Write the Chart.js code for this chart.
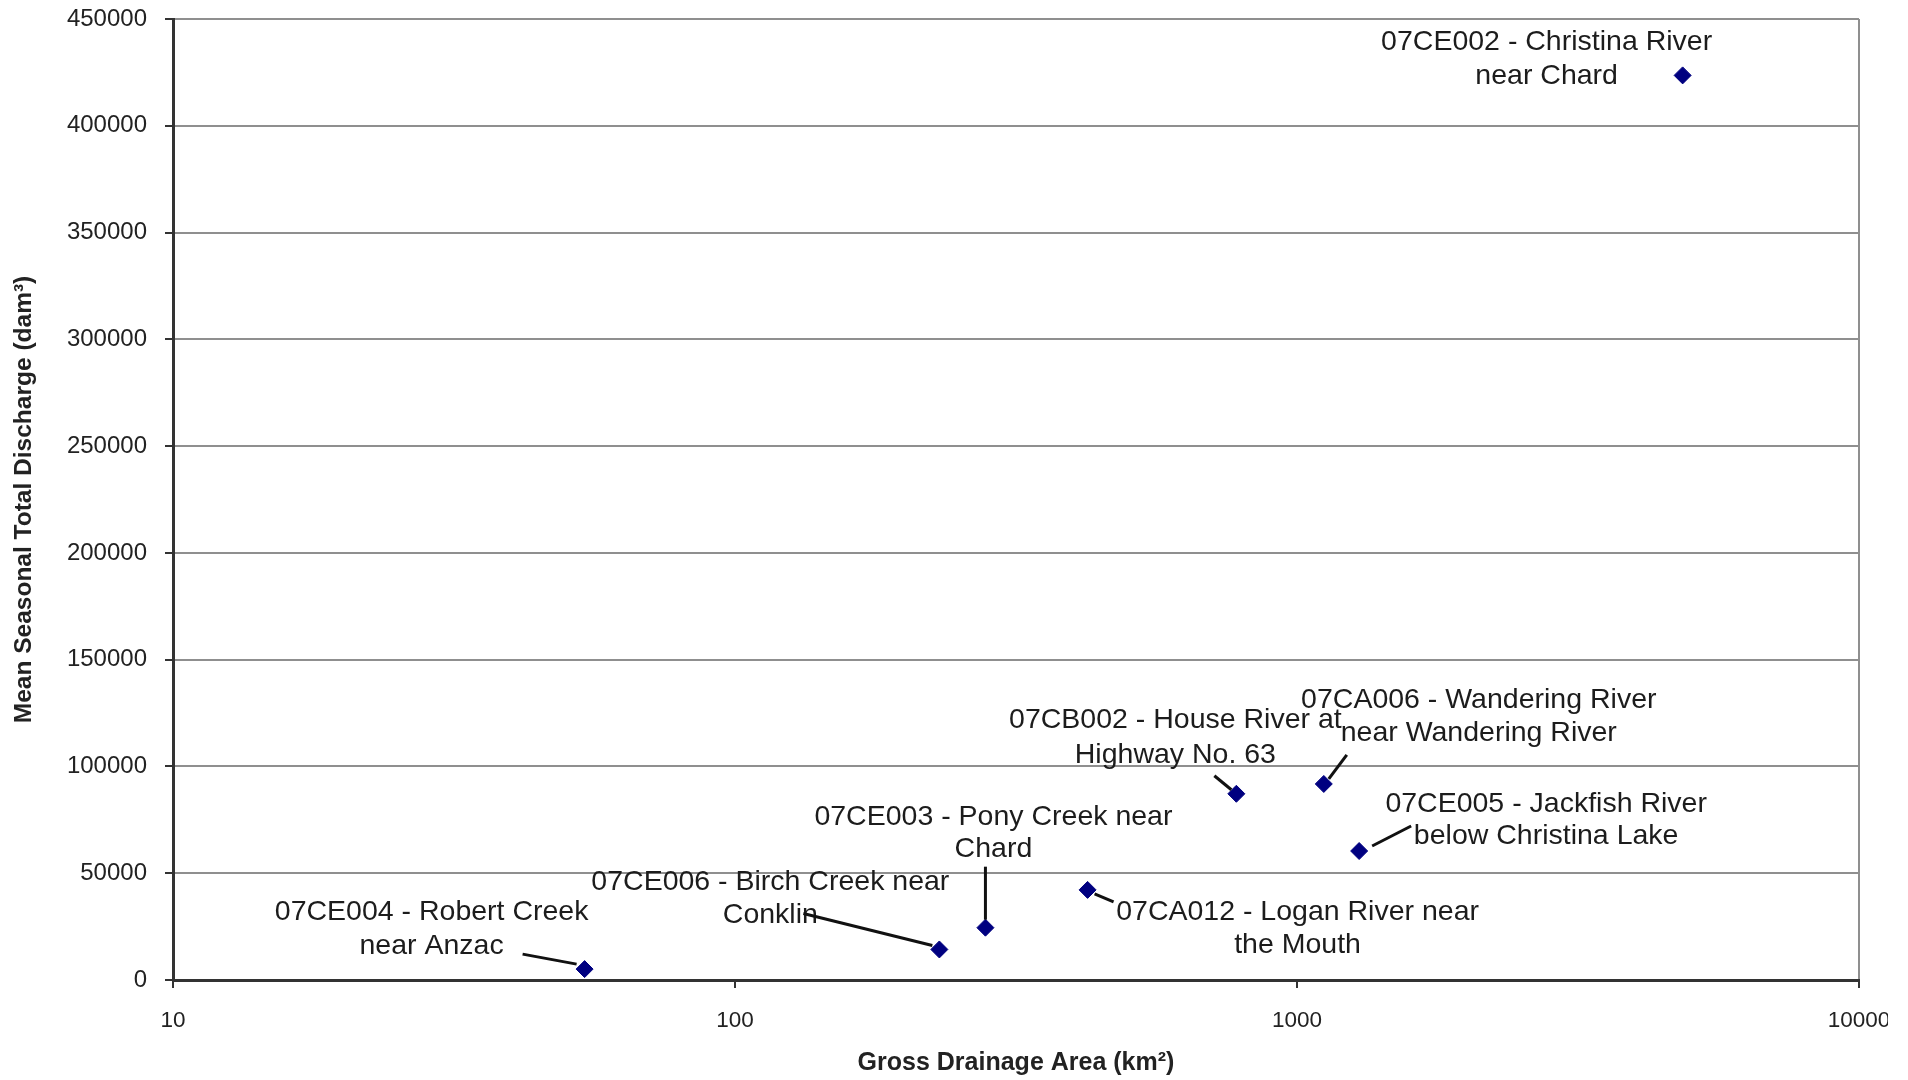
<!DOCTYPE html>
<html>
<head>
<meta charset="utf-8">
<script src="https://cdn.jsdelivr.net/npm/chart.js@4.4.1/dist/chart.umd.min.js"></script>
<style>
  html, body { margin: 0; padding: 0; background: #fff; }
  #wrap { width: 1888px; height: 1080px; overflow: hidden; }
</style>
</head>
<body>
<div id="wrap"><canvas id="chart" width="1908" height="1080"></canvas></div>
<script>
// station labels (two lines each)
const stationLabels = [
  ["07CE004 - Robert Creek", "near Anzac"],
  ["07CE006 - Birch Creek near", "Conklin"],
  ["07CE003 - Pony Creek near", "Chard"],
  ["07CA012 - Logan River near", "the Mouth"],
  ["07CB002 - House River at", "Highway No. 63"],
  ["07CA006 - Wandering River", "near Wandering River"],
  ["07CE005 - Jackfish River", "below Christina Lake"],
  ["07CE002 - Christina River", "near Chard"]
];
// gross drainage area (km2)
const drainageArea = [54, 231, 279, 424, 780, 1116, 1290, 4855];
// mean seasonal total discharge (dam3)
const discharge = [5100, 14300, 24500, 42200, 87200, 91800, 60400, 423600];

const xTickValues = [10, 100, 1000, 10000];
const yMin = 0, yMax = 450000, yStep = 50000;

// where each label sits relative to its point (px): text centre x, line y's, leader start/end
const labelLayout = [
  { dx: -153, dy: [-57, -23], line: [[-8, -5], [-62, -15]] },
  { dx: -169, dy: [-67, -34], line: [[-7, -4], [-136, -36]] },
  { dx: 8,    dy: [-111, -79], line: [[0, -8], [0, -61]] },
  { dx: 210,  dy: [22, 55], line: [[7, 4], [26, 12]] },
  { dx: -61,  dy: [-74, -39], line: [[-5, -4], [-22, -18]] },
  { dx: 155,  dy: [-84, -51], line: [[5, -5], [23, -29]] },
  { dx: 187,  dy: [-47, -15], line: [[13, -5], [52, -25]] },
  { dx: -136, dy: [-33, 1], line: null }
];

const points = drainageArea.map((a, i) => ({ x: a, y: discharge[i] }));

const stationLabelPlugin = {
  id: "stationLabels",
  afterDatasetsDraw(chart) {
    const ctx = chart.ctx;
    const meta = chart.getDatasetMeta(0);
    ctx.save();
    ctx.font = '28.5px "Liberation Sans", Arial, sans-serif';
    ctx.fillStyle = "#1c1c1c";
    ctx.strokeStyle = "#111";
    ctx.lineWidth = 3;
    ctx.textAlign = "center";
    ctx.textBaseline = "middle";
    meta.data.forEach((pt, i) => {
      const lay = labelLayout[i];
      stationLabels[i].forEach((txt, j) => {
        ctx.fillText(txt, pt.x + lay.dx, pt.y + lay.dy[j]);
      });
      if (lay.line) {
        ctx.beginPath();
        ctx.moveTo(pt.x + lay.line[0][0], pt.y + lay.line[0][1]);
        ctx.lineTo(pt.x + lay.line[1][0], pt.y + lay.line[1][1]);
        ctx.stroke();
      }
    });
    ctx.restore();
  }
};

const ctx = document.getElementById("chart").getContext("2d");
new Chart(ctx, {
  type: "scatter",
  data: {
    datasets: [{
      label: "Stations",
      data: points,
      pointStyle: "rectRot",
      pointRadius: 8.5,
      backgroundColor: "#000080",
      borderColor: "#000080",
      borderWidth: 1
    }]
  },
  options: {
    responsive: false,
    animation: false,
    layout: { padding: { top: 19, right: 49, left: 0, bottom: 0 } },
    plugins: {
      legend: { display: false },
      tooltip: { enabled: false }
    },
    scales: {
      x: {
        type: "logarithmic",
        min: 10,
        max: 10000,
        afterBuildTicks: (scale) => { scale.ticks = xTickValues.map(v => ({ value: v })); },
        afterFit: (scale) => {
          scale.height = 100;
          scale.paddingLeft = 0;
          scale.paddingRight = 0;
        },
        ticks: {
          callback: (v) => String(v),
          autoSkip: false,
          maxRotation: 0,
          padding: 19,
          color: "#222",
          font: { family: '"Liberation Sans", Arial, sans-serif', size: 22.5 }
        },
        grid: {
          color: (c) => (c.tick && c.tick.value === 10000 ? "#8f8f8f" : "rgba(0,0,0,0)"),
          lineWidth: 2,
          tickColor: "#333",
          tickLength: 8
        },
        border: { color: "#333", width: 3 },
        title: {
          display: true,
          text: "Gross Drainage Area (km²)",
          color: "#222",
          font: { family: '"Liberation Sans", Arial, sans-serif', size: 25, weight: "bold" },
          padding: { top: 0, bottom: 2 }
        }
      },
      y: {
        type: "linear",
        min: yMin,
        max: yMax,
        afterFit: (scale) => {
          scale.width = 173;
          scale.paddingTop = 0;
          scale.paddingBottom = 0;
        },
        ticks: {
          stepSize: yStep,
          callback: (v) => String(v),
          padding: 18,
          color: "#222",
          font: { family: '"Liberation Sans", Arial, sans-serif', size: 24 }
        },
        grid: {
          color: "#8f8f8f",
          lineWidth: 2,
          tickColor: "#333",
          tickLength: 8
        },
        border: { color: "#333", width: 3 },
        title: {
          display: true,
          text: "Mean Seasonal Total Discharge (dam³)",
          color: "#222",
          font: { family: '"Liberation Sans", Arial, sans-serif', size: 24.5, weight: "bold" },
          padding: { top: 10, bottom: 0 }
        }
      }
    }
  },
  plugins: [stationLabelPlugin]
});
</script>
</body>
</html>
